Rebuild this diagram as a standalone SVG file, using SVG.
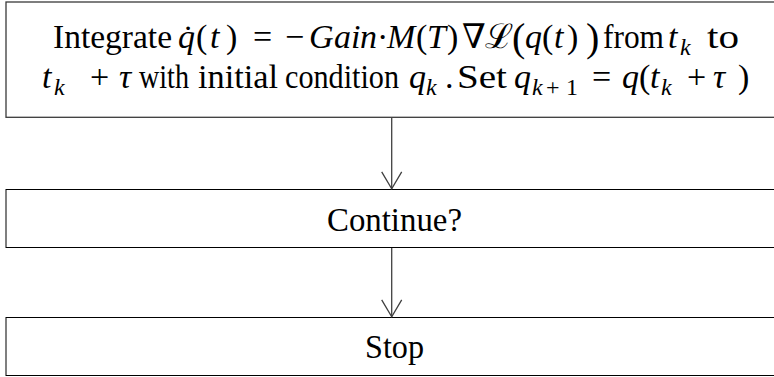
<svg xmlns="http://www.w3.org/2000/svg" width="774" height="377" viewBox="0 0 774 377">
  <style>
    .box { fill: #ffffff; stroke: #000000; stroke-width: 1; }
    .box-top { fill: #ffffff; stroke: #3a3a3a; stroke-width: 1.3; }
    .lbl { font-family: "Liberation Serif", "DejaVu Serif", serif; font-size: 34px; fill: #000000; }
    .i { font-style: italic; }
    .sub { font-style: italic; font-size: 24px; }
    .num { font-style: normal; font-size: 24px; }
    .big { font-size: 40px; }
    .edge { stroke: #404040; stroke-width: 1.3; fill: none; marker-end: url(#vee); }
  </style>
  <defs>
    <marker id="vee" markerUnits="userSpaceOnUse" viewBox="-18 -11 20 22" refX="0" refY="0" markerWidth="20" markerHeight="22" orient="auto">
      <path d="M-17,-10 L0,0 L-17,10" fill="none" stroke="#404040" stroke-width="1.3"/>
    </marker>
  </defs>

  <!-- integration step -->
  <g id="integrate">
    <rect class="box-top" x="6" y="2" width="800" height="115.3"/>
    <text class="lbl" y="48">
      <tspan x="53" textLength="119" lengthAdjust="spacingAndGlyphs">Integrate</tspan>
      <tspan class="i" x="178">q&#x307;</tspan>
      <tspan x="196">(</tspan><tspan class="i" x="210">t</tspan><tspan x="226">)</tspan>
      <tspan x="253">=</tspan>
      <tspan x="285">−</tspan>
      <tspan class="i" x="309">G</tspan><tspan class="i" x="334">a</tspan><tspan class="i" x="351">i</tspan><tspan class="i" x="360">n</tspan>
      <tspan x="377">·</tspan>
      <tspan class="i" x="387">M</tspan>
      <tspan x="416">(</tspan><tspan class="i" x="427">T</tspan><tspan x="447">)</tspan>
      <tspan x="462">∇</tspan>
      <tspan x="485">ℒ</tspan>
      <tspan class="big" x="512" y="51">(</tspan>
      <tspan class="i" x="525" y="48">q</tspan>
      <tspan x="542">(</tspan><tspan class="i" x="554">t</tspan><tspan x="567">)</tspan>
      <tspan class="big" x="586" y="51">)</tspan>
      <tspan x="603" y="48" textLength="61" lengthAdjust="spacingAndGlyphs">from</tspan>
      <tspan class="i" x="668">t</tspan><tspan class="sub" x="680" y="55">k</tspan>
      <tspan x="707" y="48" textLength="32" lengthAdjust="spacingAndGlyphs">to</tspan>
    </text>
    <text class="lbl" y="88">
      <tspan class="i" x="42">t</tspan><tspan class="sub" x="54" y="95">k</tspan>
      <tspan x="90" y="88">+</tspan>
      <tspan class="i" x="119">τ</tspan>
      <tspan x="139" textLength="50" lengthAdjust="spacingAndGlyphs">with</tspan>
      <tspan x="198" textLength="80" lengthAdjust="spacingAndGlyphs">initial</tspan>
      <tspan x="285" textLength="114" lengthAdjust="spacingAndGlyphs">condition</tspan>
      <tspan class="i" x="409">q</tspan><tspan class="sub" x="426" y="95">k</tspan>
      <tspan x="445" y="88">.</tspan>
      <tspan x="457" textLength="50" lengthAdjust="spacingAndGlyphs">Set</tspan>
      <tspan class="i" x="514">q</tspan><tspan class="sub" x="532" y="95">k</tspan><tspan class="num" x="546">+</tspan><tspan class="num" x="566">1</tspan>
      <tspan x="592" y="88">=</tspan>
      <tspan class="i" x="622">q</tspan>
      <tspan x="639">(</tspan><tspan class="i" x="650">t</tspan><tspan class="sub" x="661" y="95">k</tspan>
      <tspan x="687" y="88">+</tspan>
      <tspan class="i" x="713">τ</tspan>
      <tspan x="738">)</tspan>
    </text>
  </g>

  <!-- decision -->
  <g id="continue">
    <rect class="box" x="6" y="189.5" width="800" height="58"/>
    <text class="lbl" x="327" y="230.5" textLength="135" lengthAdjust="spacingAndGlyphs">Continue?</text>
  </g>

  <!-- end -->
  <g id="stop">
    <rect class="box" x="6" y="317.5" width="800" height="58"/>
    <text class="lbl" x="365" y="358" textLength="59" lengthAdjust="spacingAndGlyphs">Stop</text>
  </g>

  <!-- connectors -->
  <g id="connectors">
    <line class="edge" x1="391.7" y1="118" x2="391.7" y2="188.8"/>
    <line class="edge" x1="391.7" y1="248" x2="391.7" y2="316.8"/>
  </g>
</svg>
